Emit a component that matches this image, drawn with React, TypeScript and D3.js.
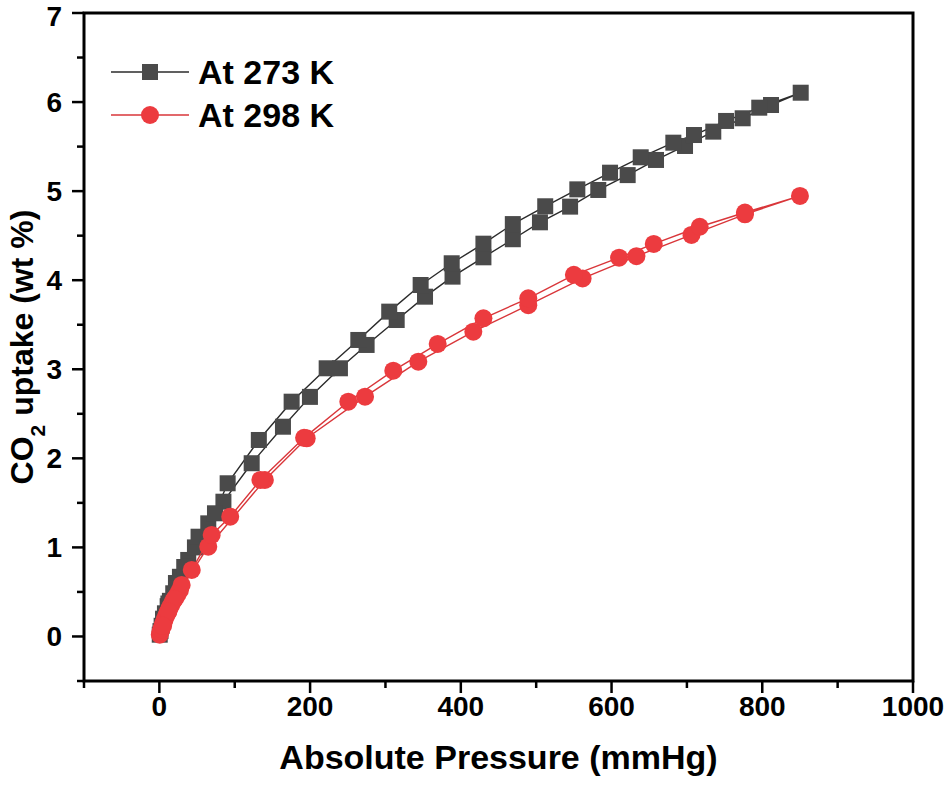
import React from "react";
import * as d3 from "d3";

// ---- data ----
const ads273X = [0.5, 1.5, 3, 5, 7.4, 11, 14, 18.4, 27.3, 38.3, 47.2, 64.9, 85, 122.5, 164, 199.8, 239.6, 275, 314.9, 352.5, 389, 430, 469, 505, 545, 582.4, 621.4, 659, 697.5, 735, 774, 811.6, 851];
const ads273Y = [0.02, 0.06, 0.12, 0.19, 0.26, 0.34, 0.4, 0.485, 0.67, 0.859, 1.0, 1.27, 1.513, 1.945, 2.355, 2.69, 3.011, 3.273, 3.553, 3.815, 4.04, 4.257, 4.46, 4.65, 4.826, 5.013, 5.18, 5.35, 5.507, 5.668, 5.818, 5.967, 6.105];
const des273X = [796, 752, 709.4, 682, 638.7, 598, 554.6, 512, 469, 430, 387.9, 346.7, 305, 264, 222, 175.5, 132, 90.6, 73.8, 52, 33, 22, 12, 5];
const des273Y = [5.937, 5.788, 5.63, 5.544, 5.38, 5.207, 5.02, 4.83, 4.63, 4.41, 4.19, 3.946, 3.647, 3.329, 3.011, 2.636, 2.206, 1.72, 1.383, 1.12, 0.78, 0.6, 0.37, 0.2];

const ads298X = [0.5, 1.5, 2.5, 4, 5.5, 7, 9, 11, 13, 15.5, 18, 21, 24, 27.3, 64.9, 140, 195.5, 272.9, 343.6, 416.6, 489.5, 561.6, 633, 706, 777, 850];
const ads298Y = [0.02, 0.05, 0.08, 0.12, 0.15, 0.19, 0.23, 0.27, 0.31, 0.35, 0.39, 0.43, 0.47, 0.52, 1.008, 1.757, 2.225, 2.692, 3.085, 3.422, 3.72, 4.02, 4.27, 4.508, 4.74, 4.946];
const des298X = [777, 717, 656, 610, 550, 489.5, 430, 369.3, 310.4, 250.7, 192, 134, 94, 69.4, 43, 29.6, 20, 12, 5];
const des298Y = [4.76, 4.6, 4.407, 4.253, 4.06, 3.797, 3.572, 3.284, 2.984, 2.636, 2.23, 1.757, 1.345, 1.14, 0.747, 0.578, 0.42, 0.28, 0.12];

const xMajor = [0, 200, 400, 600, 800, 1000];
const xMinor = [-100, 100, 300, 500, 700, 900];
const yMajor = [0, 1, 2, 3, 4, 5, 6, 7];
const yMinor = [-0.5, 0.5, 1.5, 2.5, 3.5, 4.5, 5.5, 6.5];

const seriesNames = ["At 273 K", "At 298 K"];

const W = 944;
const H = 791;
const M = { left: 84, right: 913, top: 13, bottom: 681 };

const GRAY = "#4a4a4a";
const GRAY_LINE = "#2b2b2b";
const RED = "#ec3b3f";
const RED_LINE = "#d9363a";
const FONT = "'Liberation Sans', Arial, Helvetica, sans-serif";

export default function App() {
  const x = d3.scaleLinear().domain([-100, 1000]).range([M.left, M.right]);
  const y = d3.scaleLinear().domain([-0.5, 7]).range([M.bottom, M.top]);

  const zip = (xs: number[], ys: number[]) => xs.map((v, i) => [v, ys[i]] as [number, number]);
  const s273 = [...zip(ads273X, ads273Y), ...zip(des273X, des273Y)];
  const s298 = [...zip(ads298X, ads298Y), ...zip(des298X, des298Y)];

  const line = d3
    .line<[number, number]>()
    .x((d) => x(d[0]))
    .y((d) => y(d[1]));

  const sq = 16;
  const r = 9;

  return (
    <svg
      width={W}
      height={H}
      viewBox={`0 0 ${W} ${H}`}
      style={{ position: "absolute", left: 0, top: 0, background: "#fff" }}
      fontFamily={FONT}
    >
      <rect x={0} y={0} width={W} height={H} fill="#fff" />

      {/* series 273 K */}
      <path d={line(s273) || ""} fill="none" stroke={GRAY_LINE} strokeWidth={1.4} />
      {s273.map((d, i) => (
        <rect
          key={"s" + i}
          x={x(d[0]) - sq / 2}
          y={y(d[1]) - sq / 2}
          width={sq}
          height={sq}
          fill={GRAY}
        />
      ))}

      {/* series 298 K */}
      <path d={line(s298) || ""} fill="none" stroke={RED_LINE} strokeWidth={1.4} />
      {s298.map((d, i) => (
        <circle key={"c" + i} cx={x(d[0])} cy={y(d[1])} r={r} fill={RED} />
      ))}

      {/* axes frame */}
      <g stroke="#000" strokeWidth={3} fill="none">
        <rect x={M.left} y={M.top} width={M.right - M.left} height={M.bottom - M.top} />
      </g>

      {/* ticks */}
      <g stroke="#000" strokeWidth={2.5}>
        {xMajor.map((v) => (
          <line key={"xM" + v} x1={x(v)} x2={x(v)} y1={M.bottom} y2={M.bottom + 12} />
        ))}
        {xMinor.map((v) => (
          <line key={"xm" + v} x1={x(v)} x2={x(v)} y1={M.bottom} y2={M.bottom + 7} />
        ))}
        {yMajor.map((v) => (
          <line key={"yM" + v} x1={M.left - 12} x2={M.left} y1={y(v)} y2={y(v)} />
        ))}
        {yMinor.map((v) => (
          <line key={"ym" + v} x1={M.left - 7} x2={M.left} y1={y(v)} y2={y(v)} />
        ))}
      </g>

      {/* tick labels */}
      <g fontWeight="bold" fontSize={28} fill="#000">
        {xMajor.map((v) => (
          <text key={"xl" + v} x={x(v)} y={M.bottom + 35} textAnchor="middle">
            {v}
          </text>
        ))}
        {yMajor.map((v) => (
          <text key={"yl" + v} x={62} y={Math.max(y(v) + 10, 26)} textAnchor="end">
            {v}
          </text>
        ))}
      </g>

      {/* axis titles */}
      <text
        x={(M.left + M.right) / 2}
        y={769}
        textAnchor="middle"
        fontWeight="bold"
        fontSize={34}
        fill="#000"
      >
        Absolute Pressure (mmHg)
      </text>
      <text
        transform={`translate(33, ${(M.top + M.bottom) / 2}) rotate(-90)`}
        textAnchor="middle"
        fontWeight="bold"
        fontSize={32}
        fill="#000"
      >
        CO<tspan baselineShift="sub" fontSize={21}>2</tspan>
        <tspan> uptake (wt %)</tspan>
      </text>

      {/* legend */}
      <g>
        <line x1={111} x2={189} y1={72} y2={72} stroke={GRAY_LINE} strokeWidth={1.4} />
        <rect x={150 - sq / 2} y={72 - sq / 2} width={sq} height={sq} fill={GRAY} />
        <text x={198} y={84} fontWeight="bold" fontSize={34} fill="#000">
          {seriesNames[0]}
        </text>
        <line x1={111} x2={189} y1={115} y2={115} stroke={RED_LINE} strokeWidth={1.4} />
        <circle cx={150} cy={115} r={r} fill={RED} />
        <text x={198} y={127} fontWeight="bold" fontSize={34} fill="#000">
          {seriesNames[1]}
        </text>
      </g>
    </svg>
  );
}
